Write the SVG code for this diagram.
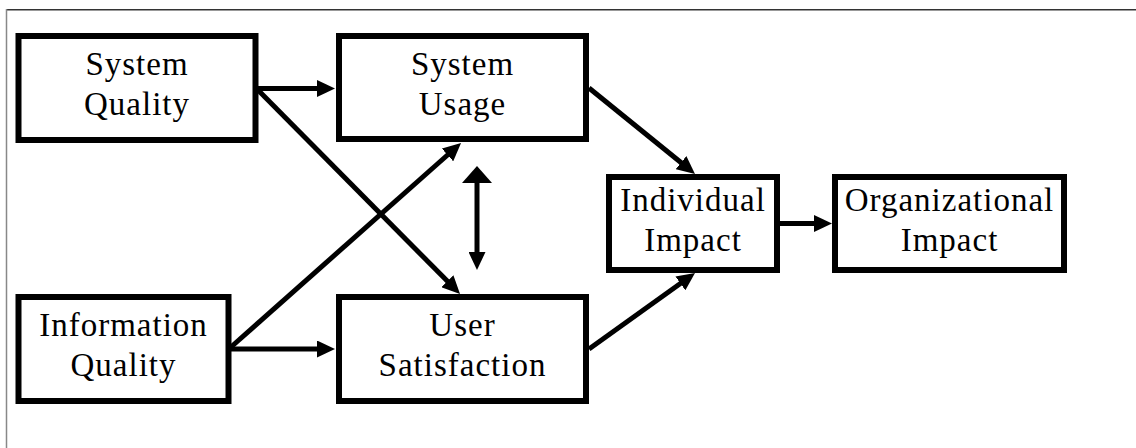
<svg xmlns="http://www.w3.org/2000/svg" width="1136" height="448" viewBox="0 0 1136 448">
  <style>
    .box { fill: #ffffff; stroke: #000000; stroke-width: 6; }
    .lbl { font-family: "Liberation Serif", "Times New Roman", serif; font-size: 33px; letter-spacing: 1px; fill: #000000; text-anchor: middle; }
    .edge { stroke: #000000; stroke-width: 5; fill: none; }
  </style>
  <defs>
    <marker id="head" markerUnits="userSpaceOnUse" markerWidth="18" markerHeight="17" refX="9" refY="8.5" orient="auto">
      <path d="M0,0 L18,8.5 L0,17 Z" fill="#000000"/>
    </marker>
    <marker id="headWide" markerUnits="userSpaceOnUse" markerWidth="17" markerHeight="30" refX="8" refY="15" orient="auto-start-reverse">
      <path d="M0,0 L17,15 L0,30 Z" fill="#000000"/>
    </marker>
  </defs>

  <rect width="1136" height="448" fill="#ffffff"/>
  <!-- page frame (top and left edges) -->
  <line x1="6" y1="9.5" x2="1136" y2="9.5" stroke="#333333" stroke-width="1"/>
  <line x1="6" y1="10.5" x2="1136" y2="10.5" stroke="#999999" stroke-width="1"/>
  <line x1="6.5" y1="9" x2="6.5" y2="448" stroke="#888888" stroke-width="1.5"/>

  <g id="connectors">
    <line class="edge" x1="258" y1="88.5" x2="326" y2="88.5" marker-end="url(#head)"/>
    <line class="edge" x1="257" y1="89" x2="453.7" y2="287.6" marker-end="url(#head)"/>
    <line class="edge" x1="231" y1="347" x2="454.3" y2="149" marker-end="url(#head)"/>
    <line class="edge" x1="231" y1="349" x2="326" y2="349" marker-end="url(#head)"/>
    <line class="edge" x1="477" y1="175" x2="477" y2="261" marker-start="url(#headWide)" marker-end="url(#head)"/>
    <line class="edge" x1="589" y1="88" x2="688" y2="168.3" marker-end="url(#head)"/>
    <line class="edge" x1="589" y1="349" x2="687.7" y2="278.2" marker-end="url(#head)"/>
    <line class="edge" x1="780" y1="223.5" x2="823" y2="223.5" marker-end="url(#head)"/>
  </g>

  <g id="system-quality">
    <rect class="box" x="18.5" y="36" width="237" height="104"/>
    <text class="lbl" x="137" y="75">System</text>
    <text class="lbl" x="137" y="115">Quality</text>
  </g>

  <g id="system-usage">
    <rect class="box" x="339" y="36" width="247" height="103"/>
    <text class="lbl" x="462.5" y="75">System</text>
    <text class="lbl" x="462.5" y="115">Usage</text>
  </g>

  <g id="information-quality">
    <rect class="box" x="18.5" y="297" width="210" height="104"/>
    <text class="lbl" x="123.5" y="336">Information</text>
    <text class="lbl" x="123.5" y="376">Quality</text>
  </g>

  <g id="user-satisfaction">
    <rect class="box" x="339" y="297" width="247" height="104"/>
    <text class="lbl" x="462.5" y="336">User</text>
    <text class="lbl" x="462.5" y="376">Satisfaction</text>
  </g>

  <g id="individual-impact">
    <rect class="box" x="609" y="177" width="168" height="93"/>
    <text class="lbl" x="693" y="211">Individual</text>
    <text class="lbl" x="693" y="251">Impact</text>
  </g>

  <g id="organizational-impact">
    <rect class="box" x="835" y="177" width="229" height="93"/>
    <text class="lbl" x="949.5" y="211">Organizational</text>
    <text class="lbl" x="949.5" y="251">Impact</text>
  </g>
</svg>
